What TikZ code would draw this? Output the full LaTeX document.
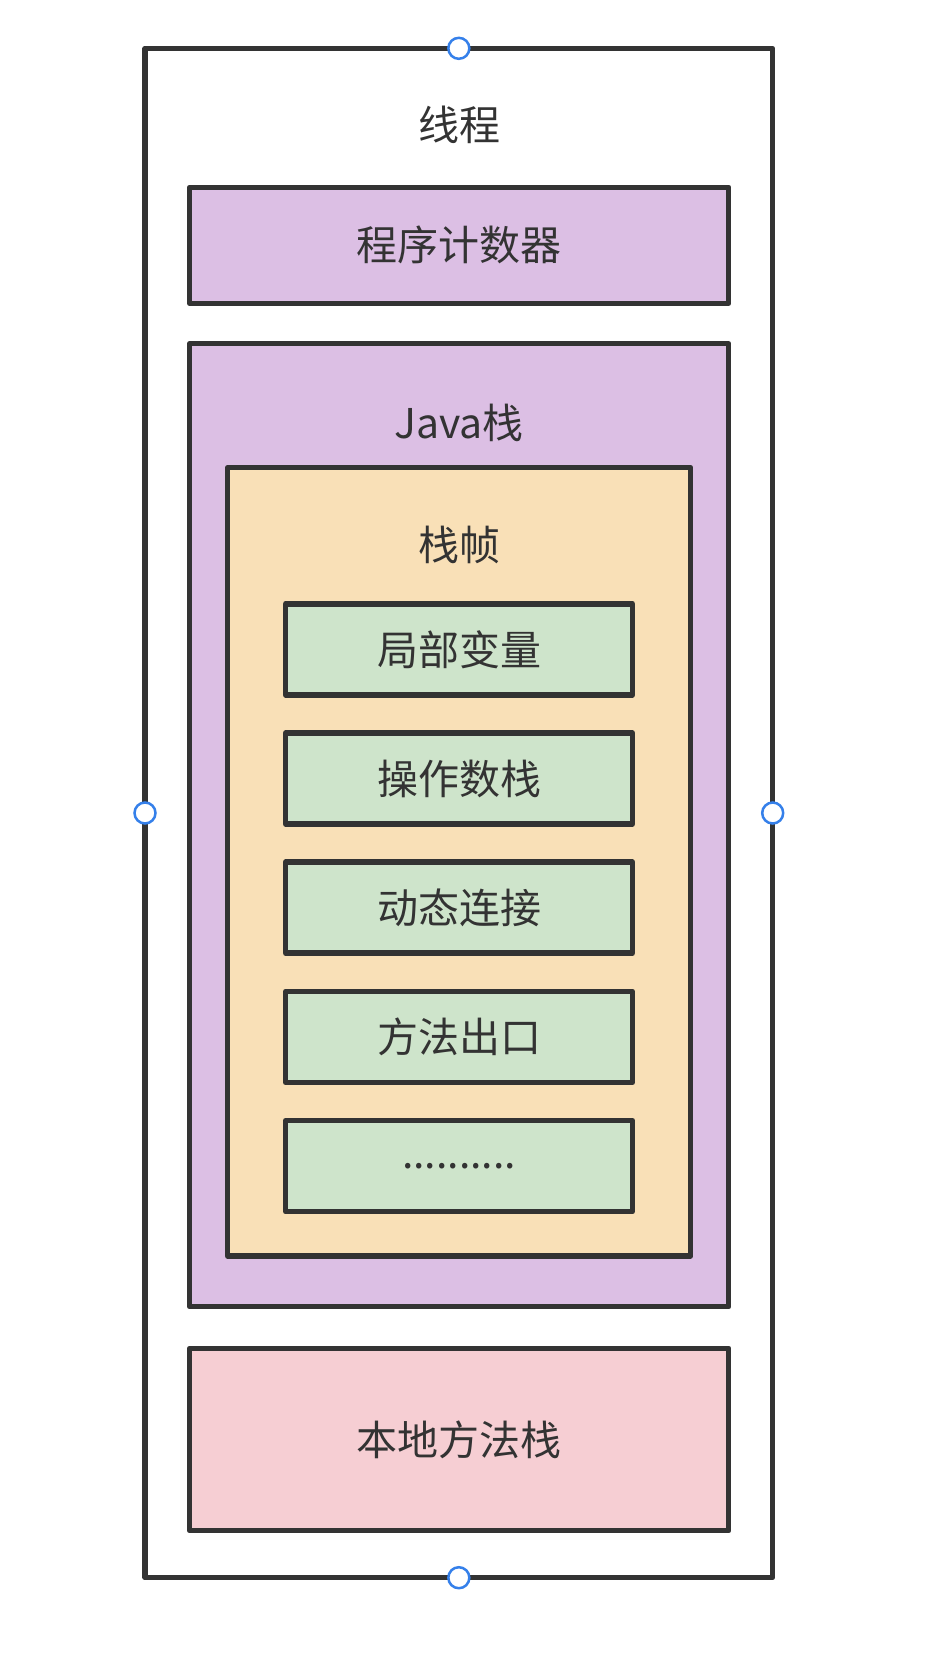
\documentclass[tikz,border=0pt]{standalone}
\usepackage{fontspec}
\setmainfont{Noto Sans CJK SC}
\definecolor{edge}{HTML}{333333}
\definecolor{purplefill}{HTML}{DCBFE4}
\definecolor{peachfill}{HTML}{F9E0B7}
\definecolor{greenfill}{HTML}{CEE4CB}
\definecolor{pinkfill}{HTML}{F6CED3}
\definecolor{handleblue}{HTML}{3580EA}
\begin{document}
\begin{tikzpicture}[x=1pt,y=-1pt,
  every node/.style={inner sep=0pt,outer sep=0pt,text=edge,font=\fontsize{41}{49}\selectfont},
  box/.style={draw=edge,line width=5.5pt,line join=round,rectangle},
  outerbox/.style={draw=edge,line width=5.2pt,line join=round,rectangle,fill=white},
  slot/.style={box,fill=greenfill,minimum width=346.6pt,minimum height=91pt},
  handle/.style={circle,draw=handleblue,line width=2.5pt,fill=white,minimum size=21pt}]
\useasboundingbox (0,0) rectangle (944,1674);
\fill[white] (0,0) rectangle (944,1674);

% thread container
\node[outerbox,minimum width=627.7pt,minimum height=1529.4pt] (thread) at (458.85,813) {};
\node (threadlbl) at (459,125) {线程};

% program counter
\node[box,fill=purplefill,minimum width=539pt,minimum height=116pt] (pc) at (459.2,245.3) {程序计数器};

% java stack
\node[box,fill=purplefill,minimum width=539pt,minimum height=963pt] (jstack) at (459.2,825.2) {};
\node (jstacklbl) at (459,423) {Java栈};

% stack frame
\node[box,fill=peachfill,minimum width=463pt,minimum height=788.3pt] (frame) at (459.2,861.8) {};
\node (framelbl) at (459,545) {栈帧};

% frame entries
\node[slot] (locals) at (459,649.3) {局部变量};
\node[slot] (operand) at (459,778.5) {操作数栈};
\node[slot] (dynlink) at (459,907.7) {动态连接};
\node[slot] (retaddr) at (459,1036.9) {方法出口};
\node[slot] (more) at (459,1166.1) {..........};

% native method stack
\node[box,fill=pinkfill,minimum width=539pt,minimum height=182.4pt] (native) at (459.2,1439.5) {本地方法栈};

% selection handles
\node[handle] (htop) at (thread.north) {};
\node[handle] (hbottom) at (thread.south) {};
\node[handle] (hleft) at (thread.west) {};
\node[handle] (hright) at (thread.east) {};
\end{tikzpicture}
\end{document}
